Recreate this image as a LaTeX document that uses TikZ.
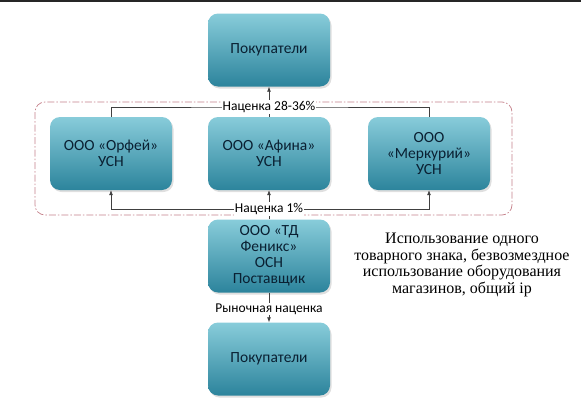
\documentclass[tikz,border=0pt]{standalone}
\usepackage{fontspec}
\setmainfont{Carlito}
\newfontfamily\notefont{Liberation Serif}
\usetikzlibrary{arrows.meta,shadows}
\definecolor{boxtop}{RGB}{136,204,218}
\definecolor{boxbot}{RGB}{44,132,156}
\definecolor{boxtext}{RGB}{10,32,50}
\definecolor{framecol}{RGB}{196,128,138}
\tikzset{
  firm/.style={rounded corners=10pt, minimum width=122pt, minimum height=73pt,
    top color=boxtop, bottom color=boxbot, text=boxtext, align=center,
    font=\fontsize{15.5}{16}\selectfont,
    drop shadow={opacity=.25, shadow xshift=1.5pt, shadow yshift=-2pt}},
  markup/.style={fill=white, inner sep=1pt, font=\fontsize{13.5}{14}\selectfont},
  link/.style={draw=black!75, line width=.7pt},
  >={Latex[length=5pt,width=4pt]}
}
\begin{document}
\begin{tikzpicture}[x=1pt,y=-1pt]
\useasboundingbox (0,0) rectangle (581,418);
\fill[black!85] (0,0) rectangle (581,2);
% group frame
\draw[framecol, line width=.7pt, dash pattern=on 7pt off 2pt on 1.5pt off 2pt,
  rounded corners=10pt] (35,102) rectangle (512,215);
% boxes
\node[firm] (buyers) at (269,50) {Покупатели};
\node[firm] (orfey) at (111,153.5) {ООО «Орфей»\\УСН};
\node[firm] (afina) at (269,153.5) {ООО «Афина»\\УСН};
\node[firm] (merk) at (429,153.5) {ООО\\«Меркурий»\\УСН};
\node[firm] (fenix) at (269,256) {ООО «ТД\\Феникс»\\ОСН\\Поставщик};
\node[firm] (buyers2) at (269,359) {Покупатели};
% markup 28-36
\coordinate (join28) at (269,107);
\draw[link] (orfey.north) |- (join28) -| (merk.north);
\draw[link,->] (afina.north) -- (buyers.south);
\node[markup] (m28) at (join28) {Наценка 28-36\%};
% markup 1
\coordinate (join1) at (269,209);
\draw[link,->] (join1) -| (orfey.south);
\draw[link,->] (join1) -| (merk.south);
\draw[link,->] (fenix.north) -- (afina.south);
\node[markup] (m1) at (join1) {Наценка 1\%};
% market
\coordinate (joinm) at (269,309);
\draw[link,->] (fenix.south) -- (buyers2.north);
\node[markup] (mm) at (joinm) {Рыночная наценка};
\node[font=\notefont\fontsize{16}{16.5}\selectfont, align=center] (note) at (462,265)
  {Использование одного\\товарного знака, безвозмездное\\использование оборудования\\магазинов, общий ip};
\end{tikzpicture}
\end{document}
